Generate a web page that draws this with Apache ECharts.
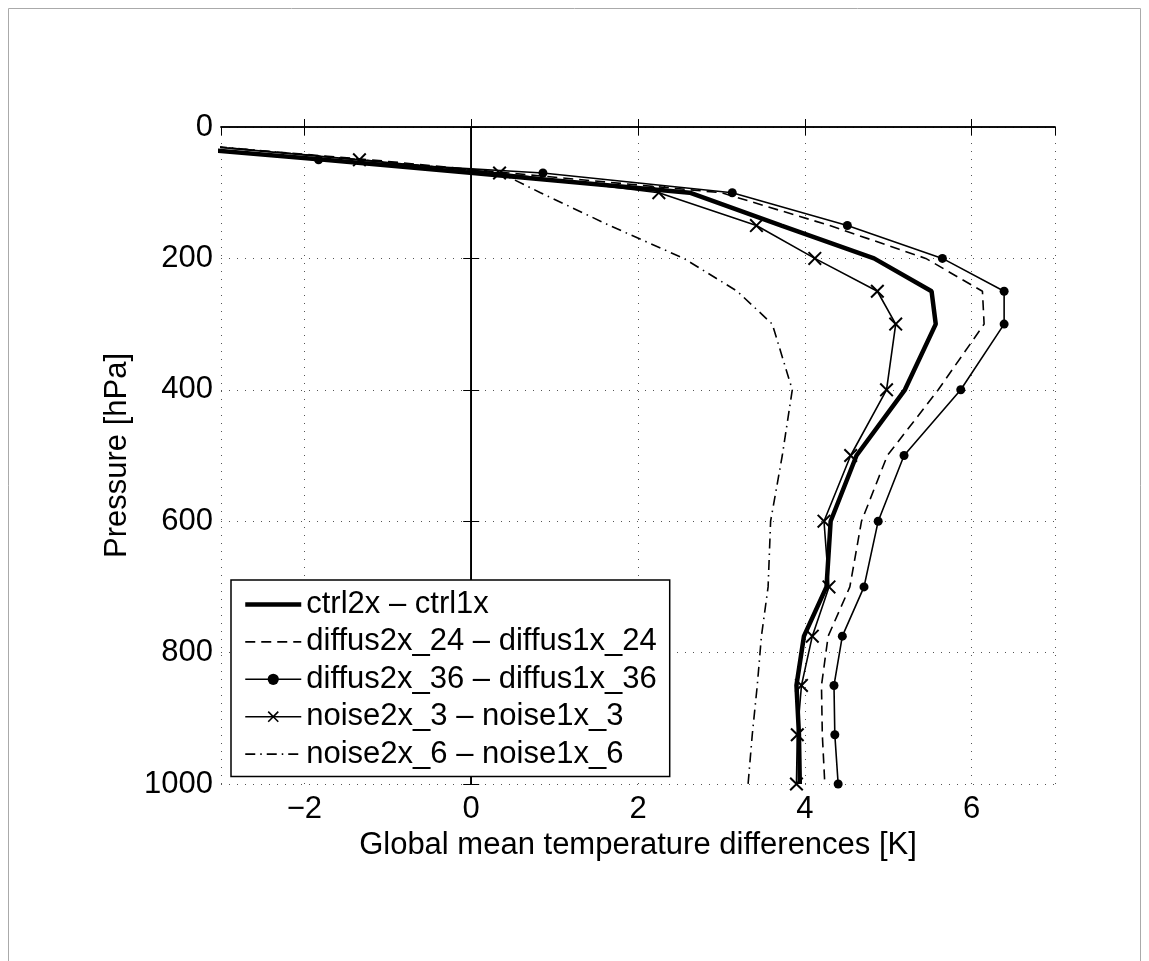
<!DOCTYPE html>
<html>
<head>
<meta charset="utf-8">
<script src="https://cdn.jsdelivr.net/npm/echarts@6/dist/echarts.min.js"></script>
<style>
html,body{margin:0;padding:0;background:#fff;}
#chart{width:1149px;height:961px;}
</style>
</head>
<body>
<div id="chart"></div>
<script>
// Pressure levels [hPa]
const pressure = [30, 50, 70, 100, 150, 200, 250, 300, 400, 500, 600, 700, 775, 850, 925, 1000];
// Temperature differences [K]
const ctrl     = [-3.6, -1.76, 0.02, 2.62, 3.72, 4.83, 5.52, 5.57, 5.20, 4.62, 4.31, 4.26, 3.99, 3.90, 3.93, 3.94];
const diffus24 = [-3.1, -1.2, 0.45, 3.0, 4.3, 5.45, 6.13, 6.15, 5.6, 4.99, 4.68, 4.54, 4.28, 4.20, 4.21, 4.24];
const diffus36 = [-3.7, -1.83, 0.86, 3.13, 4.51, 5.65, 6.39, 6.39, 5.87, 5.19, 4.88, 4.71, 4.45, 4.35, 4.36, 4.40];
const noise3   = [-3.1, -1.34, 0.34, 2.25, 3.42, 4.12, 4.87, 5.09, 4.98, 4.55, 4.23, 4.29, 4.09, 3.96, 3.91, 3.90];
const noise6   = [-3.05, -1.32, 0.35, 0.83, 1.66, 2.55, 3.19, 3.61, 3.85, 3.73, 3.59, 3.56, 3.48, 3.43, 3.37, 3.32];
const seriesNames = ['ctrl2x \u2013 ctrl1x', 'diffus2x_24 \u2013 diffus1x_24', 'diffus2x_36 \u2013 diffus1x_36', 'noise2x_3 \u2013 noise1x_3', 'noise2x_6 \u2013 noise1x_6'];
const xTitle = 'Global mean temperature differences [K]';
const yTitle = 'Pressure [hPa]';

const FONT = "'Liberation Sans', Helvetica, Arial, sans-serif";
const pairs = vals => vals.map((v, i) => [v, pressure[i]]);
const xSymbol = 'path://M0,1 L1,0 L5,4 L9,0 L10,1 L6,5 L10,9 L9,10 L5,6 L1,10 L0,9 L4,5 Z';

const chart = echarts.init(document.getElementById('chart'), null, {renderer: 'canvas'});
const gridLine = {show: true, lineStyle: {color: '#555', width: 1, type: [1, 7]}};
const tickIn = {show: true, inside: true, length: 8, lineStyle: {color: '#000', width: 1}};
const axLine = {show: true, lineStyle: {color: '#000', width: 1.5}};

chart.setOption({
  animation: false,
  backgroundColor: '#fff',
  textStyle: {fontFamily: FONT},
  graphic: [{
    type: 'rect', shape: {x: 8.5, y: 8.5, width: 1132, height: 970},
    style: {fill: 'none', stroke: '#aaa', lineWidth: 1}, silent: true, z: -10
  }],
  grid: {left: 221, right: 94, top: 127, bottom: 177, containLabel: false},
  xAxis: [{
    type: 'value', min: -3, max: 7, splitNumber: 5, position: 'bottom',
    axisLine: axLine, axisTick: tickIn, splitLine: gridLine,
    axisLabel: {showMinLabel: false, showMaxLabel: false, color: '#000', fontSize: 31, fontFamily: FONT, margin: 10,
      formatter: v => String(v).replace('-', '\u2212')},
    name: xTitle, nameLocation: 'middle', nameGap: 44,
    nameTextStyle: {color: '#000', fontSize: 31, fontFamily: FONT}
  }, {
    type: 'value', min: -3, max: 7, splitNumber: 5, position: 'top',
    axisLine: axLine, axisTick: tickIn, splitLine: {show: false}, axisLabel: {show: false}
  }],
  yAxis: [{
    type: 'value', min: 0, max: 1000, interval: 200, inverse: true, position: 'left',
    axisLine: axLine, axisTick: tickIn, splitLine: gridLine,
    axisLabel: {color: '#000', fontSize: 31, fontFamily: FONT, margin: 8, formatter: v => String(v)},
    name: yTitle, nameLocation: 'middle', nameGap: 72, nameRotate: 90,
    nameTextStyle: {color: '#000', fontSize: 31, fontFamily: FONT}
  }, {
    type: 'value', min: 0, max: 1000, interval: 200, inverse: true, position: 'right',
    axisLine: axLine, axisTick: tickIn, splitLine: {show: false}, axisLabel: {show: false}
  }],
  legend: {
    orient: 'vertical', left: 231, top: 580, selectedMode: false,
    backgroundColor: '#fff', borderColor: '#000', borderWidth: 1.5, borderRadius: 0,
    padding: [9, 13, 7, 12], itemWidth: 56, itemHeight: 14, itemGap: 6.4,
    textStyle: {color: '#000', fontSize: 31, fontFamily: FONT},
    data: [
      {name: seriesNames[0], itemStyle: {opacity: 0}, lineStyle: {width: 4.5}},
      {name: seriesNames[1], itemStyle: {opacity: 0}, lineStyle: {width: 1.6}},
      {name: seriesNames[2], lineStyle: {width: 1.6}},
      {name: seriesNames[3], lineStyle: {width: 1.6}},
      {name: seriesNames[4], itemStyle: {opacity: 0}, lineStyle: {width: 1.6}}
    ]
  },
  series: [{
    name: seriesNames[0], type: 'line', data: pairs(ctrl), symbol: 'none', clip: true,
    lineStyle: {color: '#000', width: 4.5}, itemStyle: {color: '#000'}, z: 5,
    markLine: {silent: true, symbol: 'none', label: {show: false},
      lineStyle: {color: '#000', width: 1, type: 'solid'}, data: [{xAxis: 0}], z: 1}
  }, {
    name: seriesNames[1], type: 'line', data: pairs(diffus24), symbol: 'none', clip: true,
    lineStyle: {color: '#000', width: 1.6, type: [10, 6]}, itemStyle: {color: '#000'}
  }, {
    name: seriesNames[2], type: 'line', data: pairs(diffus36), symbol: 'circle', symbolSize: 9, clip: true,
    lineStyle: {color: '#000', width: 1.6}, itemStyle: {color: '#000'}
  }, {
    name: seriesNames[3], type: 'line', data: pairs(noise3), symbol: xSymbol, symbolSize: 14, clip: true,
    lineStyle: {color: '#000', width: 1.6}, itemStyle: {color: '#000'}
  }, {
    name: seriesNames[4], type: 'line', data: pairs(noise6), symbol: 'none', clip: true,
    lineStyle: {color: '#000', width: 1.6, type: [10, 5, 1.5, 5]}, itemStyle: {color: '#000'}
  }]
});
</script>
</body>
</html>
